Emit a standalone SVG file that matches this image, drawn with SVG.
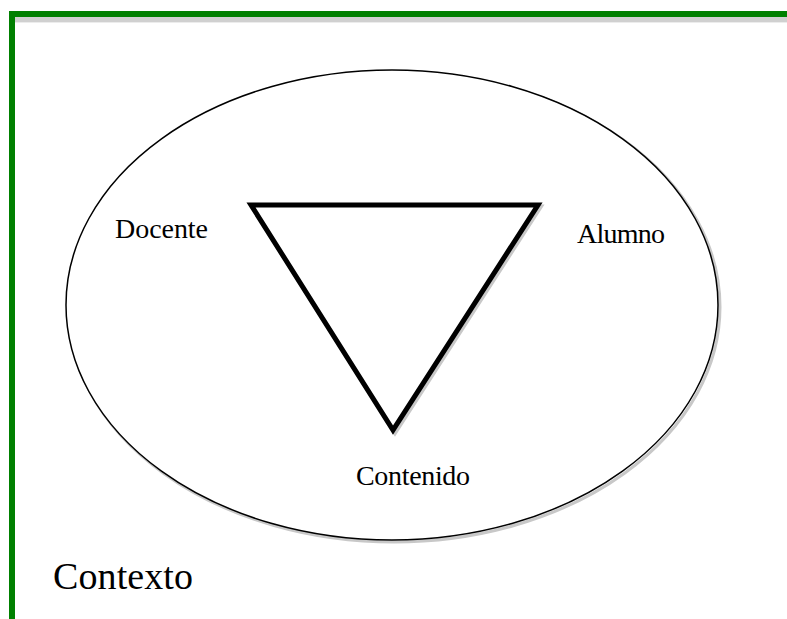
<svg xmlns="http://www.w3.org/2000/svg" width="787" height="619" viewBox="0 0 787 619">
<style>
.lbl{font-family:"Liberation Serif","DejaVu Serif",serif;fill:#000}
</style>
<rect width="787" height="619" fill="#fff"/>
<g id="frame">
<rect x="15" y="17" width="772" height="5" fill="#d0d0d0"/>
<rect x="15" y="22" width="772" height="1" fill="#ececec"/>
<rect x="9" y="11" width="778" height="6" fill="#008000"/>
<rect x="9" y="11" width="6" height="608" fill="#008000"/>
</g>
<g id="contexto">
<ellipse cx="394" cy="307" rx="326" ry="235" fill="none" stroke="#c8c8c8" stroke-width="3"/>
<ellipse cx="392" cy="305" rx="326" ry="235" fill="#fff" stroke="#000" stroke-width="1.5"/>
<text class="lbl" x="53" y="589" font-size="38" textLength="140">Contexto</text>
</g>
<g id="triangulo">
<polygon points="253,207 540,207 395,432" fill="none" stroke="#c8c8c8" stroke-width="5"/>
<polygon points="251,205 538,205 393,430" fill="#fff" stroke="#000" stroke-width="5" stroke-linejoin="miter"/>
</g>
<g id="docente"><text class="lbl" x="115" y="238" font-size="28" textLength="93">Docente</text></g>
<g id="alumno"><text class="lbl" x="577" y="243" font-size="28" textLength="88">Alumno</text></g>
<g id="contenido"><text class="lbl" x="356" y="485" font-size="28" textLength="114">Contenido</text></g>
</svg>
